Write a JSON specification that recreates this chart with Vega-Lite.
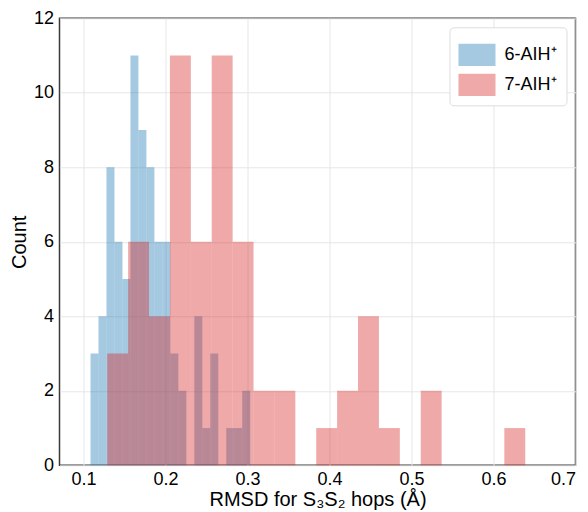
{
  "$schema": "https://vega.github.io/schema/vega-lite/v6.json",
  "width": 516,
  "height": 447,
  "autosize": {"type": "none"},
  "padding": {"left": 59.5, "top": 18.3, "right": 12.5, "bottom": 46.7},
  "background": "white",
  "config": {
    "font": "Liberation Sans",
    "view": {"stroke": "#3a3a3a", "strokeWidth": 1.5},
    "axis": {
      "labelFont": "Liberation Sans",
      "titleFont": "Liberation Sans",
      "labelFontSize": 18,
      "titleFontSize": 20,
      "titleFontWeight": "normal",
      "labelColor": "#000",
      "titleColor": "#000",
      "ticks": false,
      "domain": false,
      "gridColor": "#e6e6e6",
      "gridWidth": 1
    },
    "legend": {
      "labelFont": "Liberation Sans",
      "labelFontSize": 18,
      "labelColor": "#000"
    }
  },
  "data": {
    "values": [
      {"series": "6-AIH⁺", "x0": 0.10854, "x1": 0.11828, "count": 3},
      {"series": "6-AIH⁺", "x0": 0.11828, "x1": 0.12801, "count": 4},
      {"series": "6-AIH⁺", "x0": 0.12801, "x1": 0.13775, "count": 8},
      {"series": "6-AIH⁺", "x0": 0.13775, "x1": 0.14749, "count": 6},
      {"series": "6-AIH⁺", "x0": 0.14749, "x1": 0.15723, "count": 5},
      {"series": "6-AIH⁺", "x0": 0.15723, "x1": 0.16696, "count": 11},
      {"series": "6-AIH⁺", "x0": 0.16696, "x1": 0.17670, "count": 9},
      {"series": "6-AIH⁺", "x0": 0.17670, "x1": 0.18644, "count": 8},
      {"series": "6-AIH⁺", "x0": 0.18644, "x1": 0.19617, "count": 6},
      {"series": "6-AIH⁺", "x0": 0.19617, "x1": 0.20591, "count": 6},
      {"series": "6-AIH⁺", "x0": 0.20591, "x1": 0.21565, "count": 3},
      {"series": "6-AIH⁺", "x0": 0.21565, "x1": 0.22538, "count": 2},
      {"series": "6-AIH⁺", "x0": 0.22538, "x1": 0.23512, "count": 0},
      {"series": "6-AIH⁺", "x0": 0.23512, "x1": 0.24486, "count": 4},
      {"series": "6-AIH⁺", "x0": 0.24486, "x1": 0.25460, "count": 1},
      {"series": "6-AIH⁺", "x0": 0.25460, "x1": 0.26433, "count": 3},
      {"series": "6-AIH⁺", "x0": 0.26433, "x1": 0.27407, "count": 0},
      {"series": "6-AIH⁺", "x0": 0.27407, "x1": 0.28381, "count": 1},
      {"series": "6-AIH⁺", "x0": 0.28381, "x1": 0.29354, "count": 1},
      {"series": "6-AIH⁺", "x0": 0.29354, "x1": 0.30328, "count": 2},
      {"series": "7-AIH⁺", "x0": 0.12890, "x1": 0.15439, "count": 3},
      {"series": "7-AIH⁺", "x0": 0.15439, "x1": 0.17988, "count": 6},
      {"series": "7-AIH⁺", "x0": 0.17988, "x1": 0.20537, "count": 4},
      {"series": "7-AIH⁺", "x0": 0.20537, "x1": 0.23086, "count": 11},
      {"series": "7-AIH⁺", "x0": 0.23086, "x1": 0.25635, "count": 6},
      {"series": "7-AIH⁺", "x0": 0.25635, "x1": 0.28184, "count": 11},
      {"series": "7-AIH⁺", "x0": 0.28184, "x1": 0.30733, "count": 6},
      {"series": "7-AIH⁺", "x0": 0.30733, "x1": 0.33282, "count": 2},
      {"series": "7-AIH⁺", "x0": 0.33282, "x1": 0.35831, "count": 2},
      {"series": "7-AIH⁺", "x0": 0.35831, "x1": 0.38380, "count": 0},
      {"series": "7-AIH⁺", "x0": 0.38380, "x1": 0.40929, "count": 1},
      {"series": "7-AIH⁺", "x0": 0.40929, "x1": 0.43478, "count": 2},
      {"series": "7-AIH⁺", "x0": 0.43478, "x1": 0.46027, "count": 4},
      {"series": "7-AIH⁺", "x0": 0.46027, "x1": 0.48576, "count": 1},
      {"series": "7-AIH⁺", "x0": 0.48576, "x1": 0.51125, "count": 0},
      {"series": "7-AIH⁺", "x0": 0.51125, "x1": 0.53674, "count": 2},
      {"series": "7-AIH⁺", "x0": 0.53674, "x1": 0.56223, "count": 0},
      {"series": "7-AIH⁺", "x0": 0.56223, "x1": 0.58772, "count": 0},
      {"series": "7-AIH⁺", "x0": 0.58772, "x1": 0.61321, "count": 0},
      {"series": "7-AIH⁺", "x0": 0.61321, "x1": 0.63870, "count": 1}
    ]
  },
  "mark": {"type": "bar", "opacity": 0.4, "strokeWidth": 0},
  "encoding": {
    "x": {
      "field": "x0",
      "type": "quantitative",
      "scale": {"domain": [0.0707, 0.7], "nice": false, "zero": false},
      "axis": {
        "title": "RMSD for S₃S₂ hops (Å)",
        "values": [0.1, 0.2, 0.3, 0.4, 0.5, 0.6, 0.7],
        "format": ".1f",
        "labelPadding": 5,
        "titlePadding": 1
      }
    },
    "x2": {"field": "x1"},
    "y": {
      "field": "count",
      "type": "quantitative",
      "stack": null,
      "scale": {"domain": [0, 12], "nice": false},
      "axis": {
        "title": "Count",
        "values": [0, 2, 4, 6, 8, 10, 12],
        "labelPadding": 6,
        "titlePadding": 4
      }
    },
    "y2": {"datum": 0},
    "color": {
      "field": "series",
      "type": "nominal",
      "scale": {"domain": ["6-AIH⁺", "7-AIH⁺"], "range": ["#1f77b4", "#d62728"]},
      "legend": {
        "title": null,
        "orient": "top-right",
        "offset": 9,
        "padding": 9,
        "fillColor": "white",
        "strokeColor": "#dddddd",
        "cornerRadius": 4,
        "symbolType": "M-1,-0.6H1V0.6H-1Z",
        "symbolSize": 1369,
        "symbolOpacity": 0.4,
        "symbolStrokeWidth": 0,
        "labelOffset": 9,
        "rowPadding": -4
      }
    }
  }
}
